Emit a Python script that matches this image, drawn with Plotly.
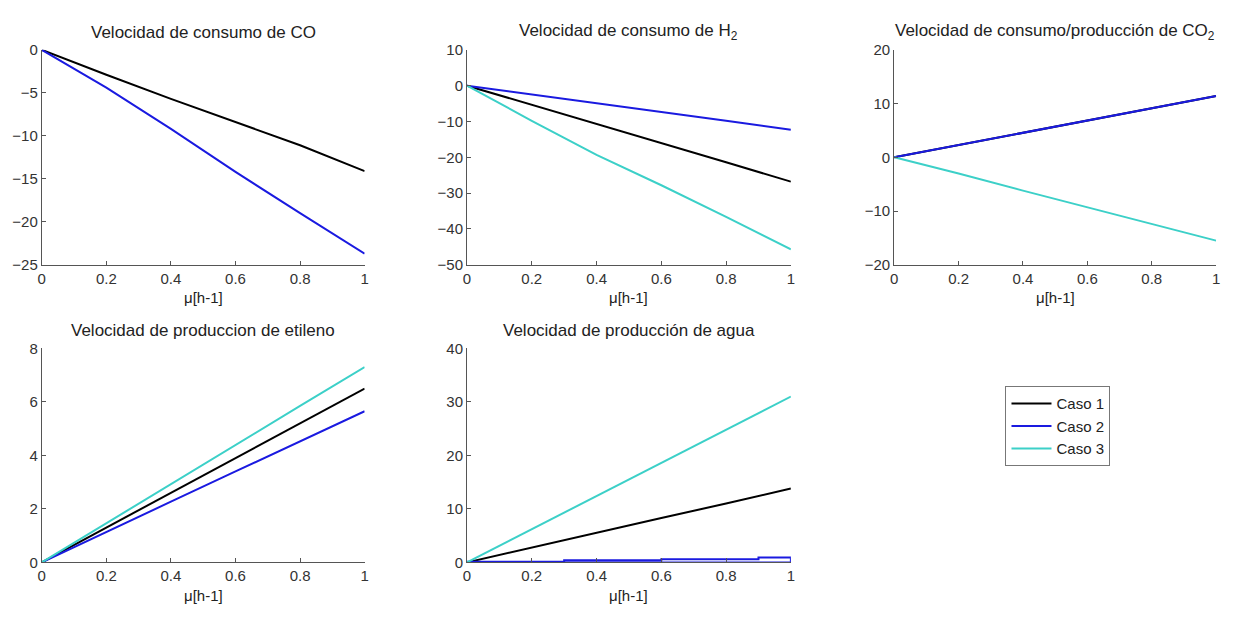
import plotly.graph_objects as go

W, H = 1238, 619

mu = [0, 0.2, 0.4, 0.6, 0.8, 1.0]

# Velocidad de consumo de CO
co_c1 = [0, -2.9, -5.7, -8.4, -11.1, -14.1]
co_c2 = [0, -4.4, -9.2, -14.2, -19.0, -23.7]

# Velocidad de consumo de H2
h2_c1 = [0, -5.3, -10.7, -16.0, -21.4, -26.8]
h2_c2 = [0, -2.4, -4.9, -7.3, -9.8, -12.3]
h2_c3 = [0, -9.8, -19.3, -27.8, -36.6, -45.7]

# Velocidad de consumo/producción de CO2
co2_c1 = [0, 2.3, 4.6, 6.9, 9.1, 11.4]
co2_c2 = [0, 2.3, 4.6, 6.9, 9.1, 11.4]
co2_c3 = [0, -3.0, -6.2, -9.3, -12.4, -15.5]

# Velocidad de produccion de etileno
et_c1 = [0, 1.3, 2.6, 3.9, 5.2, 6.5]
et_c2 = [0, 1.15, 2.27, 3.4, 4.52, 5.65]
et_c3 = [0, 1.47, 2.93, 4.4, 5.85, 7.3]

# Velocidad de producción de agua
ag_c1 = [0, 2.8, 5.5, 8.3, 11.0, 13.8]
ag_c3 = [0, 6.2, 12.4, 18.6, 24.8, 31.0]
ag_c2_x = [0, 0.3, 0.3, 0.6, 0.6, 0.9, 0.9, 1.0, 1.0, 0]
ag_c2_y = [0.1, 0.1, 0.4, 0.4, 0.6, 0.6, 0.9, 0.9, 0, 0]

x_ticks = [0, 0.2, 0.4, 0.6, 0.8, 1]
x_ticklabels = ["0", "0.2", "0.4", "0.6", "0.8", "1"]

BLACK = "#000000"
BLUE = "#1a1ae0"
CYAN = "#3cd0c8"
names = ["Caso 1", "Caso 2", "Caso 3"]
colors = [BLACK, BLUE, CYAN]

# pixel boxes: (left, right, top, bottom)
boxes = [
    (38, 363, 42, 263),
    (466, 792, 42, 263),
    (896, 1220, 42, 263),
    (38, 363, 349, 569),
    (466, 792, 349, 569),
]
titles = [
    "Velocidad de consumo de CO",
    "Velocidad de consumo de H<sub>2</sub>",
    "Velocidad de consumo/producción de CO<sub>2</sub>",
    "Velocidad de produccion de etileno",
    "Velocidad de producción de agua",
]
yranges = [(-25, 0), (-50, 10), (-20, 20), (0, 8), (0, 40)]
ydticks = [5, 10, 10, 2, 10]

fig = go.Figure()

def add(i, x, y, c, show=False):
    ax = "" if i == 0 else str(i + 1)
    fig.add_trace(go.Scatter(
        x=x, y=y, mode="lines", line=dict(color=colors[c], width=2),
        name=names[c], showlegend=show, legendgroup=names[c],
        xaxis="x" + ax, yaxis="y" + ax))

add(0, mu, co_c1, 0)
add(0, mu, co_c2, 1)
add(1, mu, h2_c1, 0, True)
add(1, mu, h2_c2, 1, True)
add(1, mu, h2_c3, 2, True)
add(2, mu, co2_c1, 0)
add(2, mu, co2_c2, 1)
add(2, mu, co2_c3, 2)
add(3, mu, et_c1, 0)
add(3, mu, et_c2, 1)
add(3, mu, et_c3, 2)
add(4, mu, ag_c1, 0)
add(4, ag_c2_x, ag_c2_y, 1)
add(4, mu, ag_c3, 2)

FONT = "Liberation Sans, Arial"
tickfont = dict(family=FONT, size=15, color="#333333")
annotations = []
layout = {}
for i, (l, r, t, b) in enumerate(boxes):
    ax = "" if i == 0 else str(i + 1)
    xd = [l / W, r / W]
    yd = [1 - b / H, 1 - t / H]
    layout["xaxis" + ax] = dict(
        domain=xd, range=[0, 1], tickvals=x_ticks, ticktext=x_ticklabels,
        showgrid=False, zeroline=False, showline=True, linecolor="#555555",
        linewidth=1, ticks="inside", ticklen=4, tickcolor="#555555",
        tickfont=tickfont, anchor="y" + ax, fixedrange=True)
    y0, y1 = yranges[i]
    layout["yaxis" + ax] = dict(
        domain=yd, range=[y0, y1], dtick=ydticks[i], tick0=0,
        showgrid=False, zeroline=False, showline=True, linecolor="#555555",
        linewidth=1, ticks="inside", ticklen=4, tickcolor="#555555",
        tickfont=tickfont, anchor="x" + ax, fixedrange=True)
    annotations.append(dict(
        text=titles[i], x=(l + r) / 2 / W, y=1 - (t - 18) / H,
        xref="paper", yref="paper", showarrow=False, xanchor="center",
        yanchor="middle", font=dict(family=FONT, size=17, color="#222222")))
    annotations.append(dict(
        text="\u03bc[h-1]", x=(l + r) / 2 / W, y=1 - (b + 34) / H,
        xref="paper", yref="paper", showarrow=False, xanchor="center",
        yanchor="middle", font=dict(family=FONT, size=15, color="#222222")))

fig.update_layout(
    width=W, height=H, margin=dict(l=0, r=0, t=0, b=0),
    paper_bgcolor="white", plot_bgcolor="white",
    annotations=annotations,
    legend=dict(x=1008 / W, y=1 - 388 / H, xanchor="left", yanchor="top",
                bordercolor="#777777", borderwidth=1, bgcolor="white",
                font=dict(family=FONT, size=15, color="#222222"),
                tracegroupgap=0, itemwidth=40),
    showlegend=True,
    **layout,
)

fig.write_html("out.html")
